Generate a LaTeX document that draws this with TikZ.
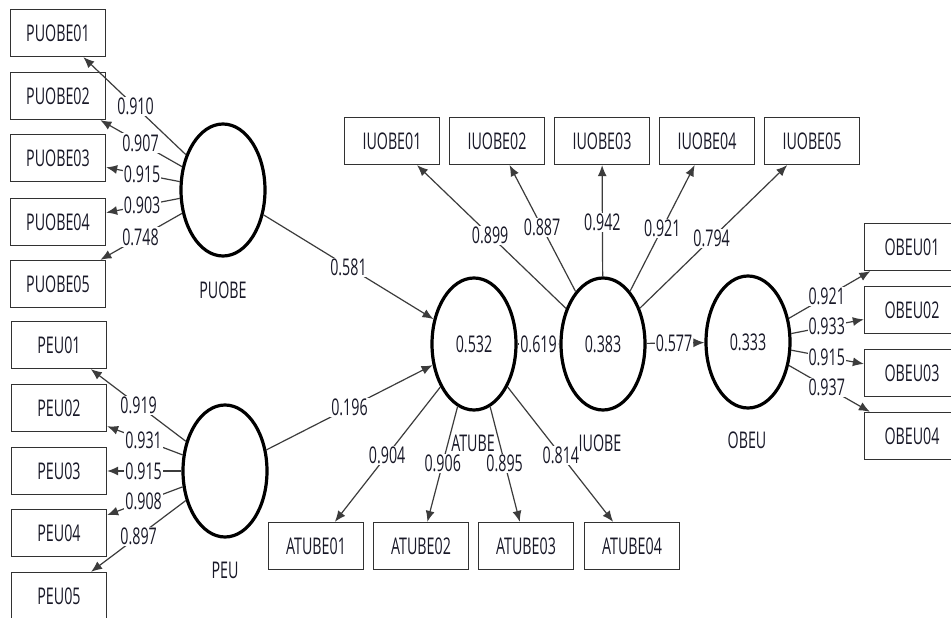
\documentclass[tikz,border=0pt]{standalone}
\usepackage{fontspec}
\setmainfont{Open Sans}[FakeStretch=0.62]
\usetikzlibrary{arrows.meta,calc,shapes.geometric}
\definecolor{boxgray}{RGB}{50,50,50}
\definecolor{linegray}{RGB}{60,60,60}
\definecolor{txt}{RGB}{25,25,40}
\begin{document}
\begin{tikzpicture}[x=1pt,y=-1pt,
  ind/.style={draw=boxgray, line width=1.3pt, minimum width=95pt, minimum height=47pt, inner sep=0pt, text=txt, font=\fontsize{23}{23}\selectfont},
  lv/.style={ellipse, draw=black, line width=3.2pt, minimum width=84pt, minimum height=132pt, inner sep=0pt, text=txt, font=\fontsize{23}{23}\selectfont},
  conn/.style={draw=linegray, line width=1.2pt, -{Latex[length=11pt,width=9pt]}},
  wt/.style={fill=white, inner sep=1pt, text=txt, font=\fontsize{23}{23}\selectfont},
  lvname/.style={text=txt, font=\fontsize{23}{23}\selectfont}
]
\useasboundingbox (0,0) rectangle (951,618);
\clip (0,0) rectangle (951,618);
\fill[white] (0,0) rectangle (951,618);

% latent variables
\node[lv] (PUOBE) at (223,190) {};
\node[lv] (PEU) at (225,471) {};
\node[lv] (ATUBE) at (474,344) {0.532};
\node[lv] (IUOBE) at (603,344) {0.383};
\node[lv] (OBEU) at (748,342) {0.333};

\node[lvname] (nPUOBE) at (223,290) {PUOBE};
\node[lvname] (nPEU) at (225,570) {PEU};
\node[lvname] (nATUBE) at (473,443) {ATUBE};
\node[lvname] (nIUOBE) at (600,443) {IUOBE};
\node[lvname] (nOBEU) at (747,440) {OBEU};

% indicators
\node[ind] (PUOBE01) at (58,33) {PUOBE01};
\node[ind] (PUOBE02) at (58,96) {PUOBE02};
\node[ind] (PUOBE03) at (58,158) {PUOBE03};
\node[ind] (PUOBE04) at (58,222) {PUOBE04};
\node[ind] (PUOBE05) at (58,284) {PUOBE05};

\node[ind] (PEU01) at (59,345) {PEU01};
\node[ind] (PEU02) at (59,408) {PEU02};
\node[ind] (PEU03) at (59,471) {PEU03};
\node[ind] (PEU04) at (59,533) {PEU04};
\node[ind] (PEU05) at (59,596) {PEU05};

\node[ind] (IUOBE01) at (392,141) {IUOBE01};
\node[ind] (IUOBE02) at (497,141) {IUOBE02};
\node[ind] (IUOBE03) at (602,141) {IUOBE03};
\node[ind] (IUOBE04) at (707,141) {IUOBE04};
\node[ind] (IUOBE05) at (812,141) {IUOBE05};

\node[ind] (ATUBE01) at (316,546) {ATUBE01};
\node[ind] (ATUBE02) at (421,546) {ATUBE02};
\node[ind] (ATUBE03) at (526,546) {ATUBE03};
\node[ind] (ATUBE04) at (632,546) {ATUBE04};

\node[ind] (OBEU01) at (912,247) {OBEU01};
\node[ind] (OBEU02) at (912,310) {OBEU02};
\node[ind] (OBEU03) at (912,373) {OBEU03};
\node[ind] (OBEU04) at (912,436) {OBEU04};

% connectors with weights
\foreach \a/\b/\t/\w in {
  PUOBE/PUOBE01/0.53/0.910, PUOBE/PUOBE02/0.50/0.907, PUOBE/PUOBE03/0.49/0.915,
  PUOBE/PUOBE04/0.49/0.903, PUOBE/PUOBE05/0.50/0.748,
  PEU/PEU01/0.52/0.919, PEU/PEU02/0.49/0.931, PEU/PEU03/0.49/0.915,
  PEU/PEU04/0.49/0.908, PEU/PEU05/0.52/0.897,
  IUOBE/IUOBE01/0.535/0.899, IUOBE/IUOBE02/0.575/0.887, IUOBE/IUOBE03/0.60/0.942,
  IUOBE/IUOBE04/0.57/0.921, IUOBE/IUOBE05/0.52/0.794,
  ATUBE/ATUBE01/0.55/0.904, ATUBE/ATUBE02/0.59/0.906, ATUBE/ATUBE03/0.59/0.895,
  ATUBE/ATUBE04/0.55/0.814,
  OBEU/OBEU01/0.48/0.921, OBEU/OBEU02/0.48/0.933, OBEU/OBEU03/0.48/0.915,
  OBEU/OBEU04/0.48/0.937,
  PUOBE/ATUBE/0.5/0.581, PEU/ATUBE/0.5/0.196, ATUBE/IUOBE/0.5/0.619,
  IUOBE/OBEU/0.49/0.577}
{
  \draw[conn] (\a) -- (\b);
  \node[wt] (w-\a-\b) at ($(\a)!\t!(\b)$) {\w};
}
\end{tikzpicture}
\end{document}
